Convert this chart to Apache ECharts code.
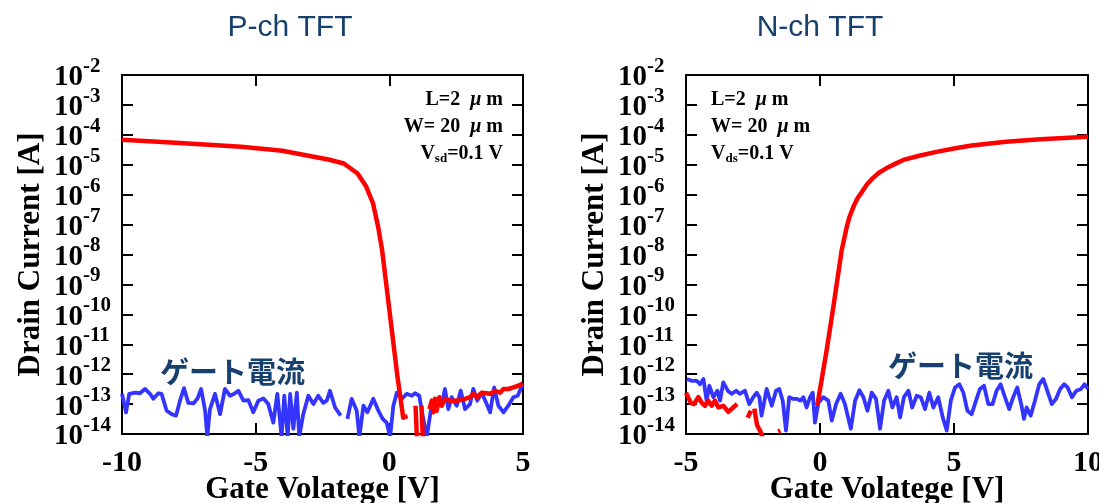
<!DOCTYPE html>
<html>
<head>
<meta charset="utf-8">
<script src="https://cdn.jsdelivr.net/npm/echarts@6/dist/echarts.min.js"></script>
<style>
  html, body { margin: 0; padding: 0; background: #fff; }
  #chart { width: 1099px; height: 503px; }
</style>
</head>
<body>
<div id="chart"></div>
<script>
// ---- P-ch TFT: drain current (A) vs gate voltage (V); null = break in trace
const pDrainV = [-10, -8, -5.54, -4.0, -2.98, -2.28, -1.70, -1.19, -0.87, -0.61, -0.42, -0.27, -0.10, 0.10, 0.30, 0.52, 0.68,
  0.8, 0.98, 1.04, 1.1, 1.2, 1.26, 1.35,
  1.50, 1.59, 1.65, 1.71, 1.77, 1.87, 1.96, 2.08, 2.27, 2.46, 2.64, 2.83, 3.02, 3.14, 3.27, 3.46, 3.64, 3.77, 3.96, 4.14, 4.27, 4.45, 4.64, 4.83, 4.99];
const pDrainI = [6.8e-5, 5.4e-5, 4.0e-5, 2.95e-5, 1.95e-5, 1.5e-5, 1.1e-5, 5.1e-6, 1.9e-6, 5.1e-7, 8.5e-8, 1.4e-8, 7.9e-10, 2.6e-11, 8.9e-13, 3.5e-14, 4.0e-14,
  null, 8.8e-14, 5e-15, null, 9e-14, 5e-15, null,
  6.8e-14, 1.3e-13, 5.3e-14, 1.5e-13, 6.0e-14, 1.7e-13, 8.8e-14, 1.5e-13, 1.3e-13, 1.3e-13, 1.35e-13, 1.5e-13, 1.7e-13, 2.2e-13, 1.7e-13, 2.4e-13, 2.3e-13, 2.2e-13, 2.8e-13, 2.4e-13, 3.2e-13, 3.2e-13, 3.6e-13, 4.1e-13, 4.9e-13];

// ---- P-ch TFT: gate current (A)
const pGateV = [-10, -9.85, -9.73, -9.51, -9.33, -9.14, -8.95, -8.83, -8.64, -8.52, -8.33, -8.14, -7.98, -7.83, -7.68, -7.52, -7.33, -7.18, -7.04, -6.89,
  -6.81, -6.71, -6.52, -6.33, -6.15, -5.96, -5.80, -5.65, -5.46, -5.27, -5.09, -4.90, -4.71, -4.53, -4.34, -4.19, -4.03, -3.93, -3.80, -3.71,
  -3.59, -3.46, -3.37, -3.22, -3.03, -2.84, -2.66, -2.47, -2.34, -2.22, -2.03, -1.82, -1.70, -1.57, -1.41, -1.22, -1.12, -0.97, -0.82, -0.60,
  -0.41, -0.25, -0.10, 0.03, 0.15, 0.28, 0.46, 0.65, 0.84, 0.96, 1.12, 1.25, 1.40, 1.55, 1.77, 1.96, 2.08, 2.21, 2.33, 2.52,
  2.67, 2.83, 3.02, 3.14, 3.29, 3.46, 3.64, 3.77, 3.92, 4.08, 4.27, 4.45, 4.64, 4.80, 4.99];
const pGateI = [2.2e-13, 5.3e-14, 2.2e-13, 2.4e-13, 2.3e-13, 3.2e-13, 2.2e-13, 1.5e-13, 2.3e-13, 2.2e-13, 6.0e-14, 4.6e-14, 4.1e-14, 1.3e-13, 3.4e-13, 1.1e-13, 1.05e-13, 1.5e-13, 3.2e-13, 6.0e-14,
  8e-15, 6.8e-14, 2.2e-13, 4.6e-14, 3.2e-13, 1.9e-13, 2.2e-13, 2.8e-13, 1.3e-13, 1.35e-13, 5.3e-14, 1.3e-13, 1.55e-13, 1.0e-13, 2.4e-14, 2.2e-13, 8e-15, 1.9e-13, 8e-15, 2.2e-13,
  1.5e-14, 2.4e-13, 8e-15, 4.6e-14, 1.9e-13, 1.0e-13, 1.9e-13, 1.1e-13, 1.3e-13, 2.8e-13, 7.7e-14, 4.1e-14, null, 3.2e-14, 1.5e-13, 6.0e-14, 8e-15, 8.8e-14, 5.3e-14, 1.5e-13,
  6.0e-14, 3.2e-14, 2.4e-14, 8e-15, 8.8e-14, 2.4e-13, 1.5e-13, 2.2e-13, 1.9e-13, 2.3e-13, 1.9e-13, 4.0e-14, 8e-15, 6.0e-14, 8.8e-14, 1.0e-13, 3.2e-13, 6.8e-14, 1.7e-13, 8.8e-14,
  2.8e-13, 6.8e-14, 1.0e-13, 3.2e-13, 1.3e-13, 2.4e-13, 1.0e-13, 5.3e-14, 3.6e-13, 8.8e-14, 5.3e-14, 8.8e-14, 1.7e-13, 1.9e-13, 4.6e-13];

// ---- N-ch TFT: drain current (A)
const nDrainV = [-5, -4.82, -4.70, -4.54, -4.41, -4.29, -4.17, -4.04, -3.92, -3.79, -3.61, -3.42, -3.24, -3.09,
  -2.9, -2.70, -2.58, -2.52, -2.45, -2.35, -2.22, -2.10, -1.9, -1.56, -1.48, -1.3,
  -0.10, 0.25, 0.50, 0.81, 1.00, 1.10, 1.25, 1.40, 1.57, 1.75, 1.96, 2.20, 2.47, 2.80, 3.11, 3.70, 4.39, 5.00, 5.66, 6.94, 8.22, 10.0];
const nDrainI = [2.4e-13, 1.1e-13, 1.0e-13, 1.7e-13, 1.1e-13, 8.8e-14, 1.3e-13, 8.8e-14, 1.3e-13, 7.7e-14, 8.8e-14, 5.5e-14, 7.7e-14, 1.0e-13,
  null, 3.5e-14, 6.0e-14, null, 7.0e-14, 2.0e-14, 1.2e-14, 6e-15, null, 1.2e-14, 1.3e-14, null,
  9.0e-14, 6.5e-12, 1.8e-10, 1.4e-8, 8.5e-8, 1.8e-7, 4.0e-7, 7.6e-7, 1.26e-6, 2.2e-6, 3.5e-6, 5.4e-6, 7.6e-6, 1.07e-5, 1.45e-5, 2.0e-5, 2.75e-5, 3.5e-5, 4.4e-5, 5.9e-5, 7.1e-5, 8.7e-5];

// ---- N-ch TFT: gate current (A)
const nGateV = [-4.97, -4.79, -4.60, -4.48, -4.35, -4.23, -4.13, -3.98, -3.83, -3.73, -3.61, -3.44, -3.30, -3.13, -2.99, -2.80, -2.64, -2.49, -2.36, -2.26,
  -2.18, -1.99, -1.80, -1.64, -1.52, -1.39, -1.27, -1.15, -1.02, -0.87, -0.72, -0.62, -0.50, -0.37, -0.27, -0.19, -0.06, 0.12, 0.31, 0.44,
  0.60, 0.77, 0.93, 1.15, 1.31, 1.47, 1.62, 1.77, 1.93, 2.09, 2.24, 2.39, 2.55, 2.70, 2.86, 2.99, 3.13, 3.30, 3.44, 3.61,
  3.76, 3.92, 4.08, 4.23, 4.41, 4.58, 4.73, 4.88, 5.04, 5.20, 5.35, 5.50, 5.66, 5.82, 5.97, 6.12, 6.28, 6.44, 6.59, 6.74,
  6.90, 7.06, 7.21, 7.36, 7.52, 7.61, 7.71, 7.86, 8.02, 8.18, 8.33, 8.48, 8.65, 8.81, 8.96, 9.11, 9.24, 9.40, 9.57, 9.74, 9.87, 10.0];
const nGateI = [6.9e-13, 6.0e-13, 6.0e-13, 4.6e-13, 6.9e-13, 1.3e-13, 4.1e-13, 1.7e-13, 2.8e-13, 1.3e-13, 5.3e-13, 2.8e-13, 2.2e-13, 2.8e-13, 2.2e-13, 2.8e-13, 1.0e-13, 1.7e-13, 2.4e-13, 1.7e-13,
  4.1e-14, 3.2e-13, 8.8e-14, 2.8e-13, 3.2e-13, 1.3e-13, 1.3e-14, 1.7e-13, 1.5e-13, 1.5e-13, 1.3e-13, 1.7e-13, 7.7e-14, 1.7e-13, 2.4e-13, 2.4e-14, 1.1e-13, 1.7e-13, 1.3e-13, 2.8e-14,
  1.0e-13, 2.2e-13, 1.0e-13, 1.5e-14, 1.3e-13, 2.9e-13, 1.7e-13, 6.0e-14, 2.4e-13, 1.5e-13, 1.5e-14, 1.3e-13, 2.8e-13, 7.7e-14, 1.7e-13, 3.6e-14, 1.7e-13, 2.8e-13, 7.7e-14, 1.9e-13,
  1.7e-13, 6.8e-14, 2.4e-13, 7.7e-14, 1.7e-13, 3.6e-14, 1.3e-14, 1.3e-13, 3.6e-13, 4.6e-13, 2.4e-13, 6.0e-14, 4.6e-14, 1.3e-13, 3.2e-13, 4.1e-13, 1.0e-13, 1.0e-13, 2.8e-13, 4.6e-13,
  1.7e-13, 6.8e-14, 1.7e-13, 3.6e-13, 8.8e-14, 3.2e-14, 7.7e-14, 4.1e-14, 1.3e-13, 4.6e-13, 6.9e-13, 2.8e-13, 1.0e-13, 1.5e-13, 3.2e-13, 4.6e-13, 3.6e-13, 1.7e-13, 2.8e-13, 3.2e-13, 4.6e-13, 3.2e-13];

// ---- axis ranges, decade ticks and tick labels
const pXRange = [-10, 5];
const nXRange = [-5, 10];
const yRange = [1e-14, 1e-2];
const yTicks = [1e-14, 1e-13, 1e-12, 1e-11, 1e-10, 1e-9, 1e-8, 1e-7, 1e-6, 1e-5, 1e-4, 1e-3, 1e-2];
// labels are split over two coincident left axes so neighbouring
// labels (with their raised exponents) never collide
const yLabelsOdd = [1e-13, 1e-11, 1e-9, 1e-7, 1e-5, 1e-3];
const yLabelsEven = [1e-14, 1e-12, 1e-10, 1e-8, 1e-6, 1e-4, 1e-2];
const titles = ['P-ch TFT', 'N-ch TFT'];
const xName = 'Gate Volatege [V]';
const yName = 'Drain Current [A]';
const gateLabel = 'ゲート電流';

const SERIF = '"Liberation Serif", "Times New Roman", serif';
const NAVY = '#17406e';
const RED = '#ff0000';
const BLUE = '#3434ff';

function pairs(vs, is) {
  return vs.map((v, i) => [v, is[i] === null ? '-' : is[i]]);
}

const tickStyle = { inside: true, length: 11, lineStyle: { color: '#000', width: 2 } };
const lineStyleAxis = { onZero: false, lineStyle: { color: '#000', width: 2 } };

function xAxesFor(gi, range) {
  return [
    {
      type: 'value', gridIndex: gi, position: 'bottom', min: range[0], max: range[1], interval: 5,
      axisLine: lineStyleAxis, axisTick: tickStyle, splitLine: { show: false },
      axisLabel: { color: '#000', fontFamily: SERIF, fontWeight: 'bold', fontSize: 30, margin: 14,
        showMinLabel: true, showMaxLabel: true, hideOverlap: false },
      name: xName, nameLocation: 'middle', nameGap: 40, nameMoveOverlap: false,
      nameTextStyle: { color: '#000', fontFamily: SERIF, fontWeight: 'bold', fontSize: 31 }
    },
    {
      type: 'value', gridIndex: gi, position: 'top', min: range[0], max: range[1], interval: 5,
      axisLine: lineStyleAxis, axisTick: tickStyle, splitLine: { show: false },
      axisLabel: { show: false }
    }
  ];
}

// decade label "10" with a raised exponent
const expRich = {
  b: { fontFamily: SERIF, fontWeight: 'bold', fontSize: 29, lineHeight: 16, color: '#000', padding: [6, 0, 0, 0] },
  s: { fontFamily: SERIF, fontWeight: 'bold', fontSize: 21, lineHeight: 10, color: '#000', padding: [0, 0, 17, 0] }
};
function decadeLabels(values) {
  return {
    customValues: values, hideOverlap: false, showMinLabel: true, showMaxLabel: true,
    align: 'left', margin: 68,
    formatter: (val) => '{b|10}{s|' + Math.round(Math.log10(val)) + '}',
    rich: expRich
  };
}

function yAxesFor(gi) {
  const base = { type: 'log', logBase: 10, gridIndex: gi, min: yRange[0], max: yRange[1], splitLine: { show: false }, minorTick: { show: false } };
  return [
    Object.assign({}, base, {
      position: 'left', axisLine: lineStyleAxis,
      axisTick: Object.assign({ customValues: yTicks }, tickStyle),
      axisLabel: decadeLabels(yLabelsOdd),
      name: yName, nameLocation: 'middle', nameGap: 76, nameRotate: 90, nameMoveOverlap: false,
      nameTextStyle: { color: '#000', fontFamily: SERIF, fontWeight: 'bold', fontSize: 31 }
    }),
    Object.assign({}, base, {
      position: 'left', offset: 0, axisLine: { show: false, onZero: false }, axisTick: { show: false },
      axisLabel: decadeLabels(yLabelsEven)
    }),
    Object.assign({}, base, {
      position: 'right', axisLine: lineStyleAxis,
      axisTick: Object.assign({ customValues: yTicks }, tickStyle),
      axisLabel: { show: false }
    })
  ];
}

function curve(data, xi, yi, color, width) {
  return {
    type: 'line', xAxisIndex: xi, yAxisIndex: yi, data: data, showSymbol: false, symbol: 'none',
    connectNulls: false, clip: true, lineStyle: { color: color, width: width, join: 'round' }, z: 2
  };
}

// device condition annotations
const annoRich = {
  mu: { fontFamily: SERIF, fontWeight: 'bold', fontStyle: 'italic', fontSize: 20, color: '#000' },
  v: { fontFamily: SERIF, fontWeight: 'bold', fontSize: 20, lineHeight: 20, color: '#000' },
  sub: { fontFamily: SERIF, fontWeight: 'bold', fontSize: 13, lineHeight: 13, color: '#000', padding: [10, 0, 0, 0] }
};
function anno(x, y, text, align) {
  return {
    type: 'text', x: x, y: y, z: 10,
    style: { text: text, fontFamily: SERIF, fontWeight: 'bold', fontSize: 20, fill: '#000', align: align, verticalAlign: 'middle', rich: annoRich }
  };
}
function label(x, y, text, font, align) {
  return { type: 'text', x: x, y: y, z: 10, style: { text: text, font: font, fill: NAVY, align: align, verticalAlign: 'middle' } };
}

const gridBase = { outerBoundsMode: 'none', containLabel: false, top: 75, height: 359 };

const chart = echarts.init(document.getElementById('chart'), null, { renderer: 'canvas' });
chart.setOption({
  animation: false,
  backgroundColor: '#fff',
  grid: [
    Object.assign({ left: 122, width: 401 }, gridBase),
    Object.assign({ left: 686, width: 402 }, gridBase)
  ],
  xAxis: [...xAxesFor(0, pXRange), ...xAxesFor(1, nXRange)],
  yAxis: [...yAxesFor(0), ...yAxesFor(1)],
  series: [
    curve(pairs(pGateV, pGateI), 0, 0, BLUE, 3.8),
    curve(pairs(pDrainV, pDrainI), 0, 0, RED, 4.5),
    curve(pairs(nGateV, nGateI), 2, 3, BLUE, 3.8),
    curve(pairs(nDrainV, nDrainI), 2, 3, RED, 4.5)
  ],
  graphic: [
    label(290, 28, titles[0], '30px "Liberation Sans", Arial, sans-serif', 'center'),
    label(820, 28, titles[1], '30px "Liberation Sans", Arial, sans-serif', 'center'),
    label(160, 372, gateLabel, 'bold 29px "Noto Sans CJK JP", sans-serif', 'left'),
    label(888, 366, gateLabel, 'bold 29px "Noto Sans CJK JP", sans-serif', 'left'),
    anno(503, 100, 'L=2  {mu|μ} m', 'right'),
    anno(503, 127, 'W= 20  {mu|μ} m', 'right'),
    anno(503, 154, '{v|V}{sub|sd}{v|=0.1 V}', 'right'),
    anno(711, 100, 'L=2  {mu|μ} m', 'left'),
    anno(711, 127, 'W= 20  {mu|μ} m', 'left'),
    anno(711, 154, '{v|V}{sub|ds}{v|=0.1 V}', 'left')
  ]
});
</script>
</body>
</html>
